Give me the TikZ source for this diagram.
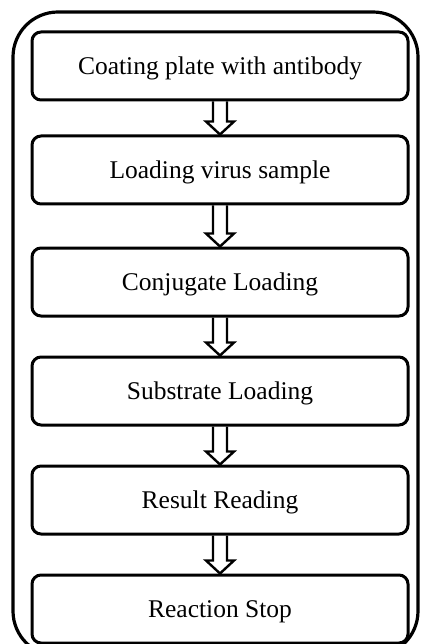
\documentclass[tikz,border=0pt]{standalone}
\usepackage{fontspec}
\setmainfont{Liberation Serif}
\usetikzlibrary{calc}
\tikzset{
  stepbox/.style={draw, line width=3pt, rounded corners=9pt, minimum width=376pt, minimum height=68pt,
    inner sep=0pt, text height=17pt, text depth=0pt, font=\fontsize{25.5}{30}\selectfont},
  frame/.style={draw, line width=3.2pt, rounded corners=45pt},
  hollow/.style={draw, line width=2.4pt, line join=miter}
}
\begin{document}
\begin{tikzpicture}[x=1pt,y=-1pt]
\useasboundingbox (0,0) rectangle (421,644);
\clip (0,0) rectangle (421,644);
\fill[white] (0,0) rectangle (421,644);
\draw[frame] (13,12) rectangle (418,656);
\node[stepbox] (b1) at (220,66) {Coating plate with antibody};
\node[stepbox] (b2) at (220,170) {Loading virus sample};
\node[stepbox] (b3) at (220,282) {Conjugate Loading};
\node[stepbox] (b4) at (220,391) {Substrate Loading};
\node[stepbox] (b5) at (220,500) {Result Reading};
\node[stepbox] (b6) at (220,609) {Reaction Stop};
\foreach \a/\b in {b1/b2,b2/b3,b3/b4,b4/b5,b5/b6}{
  \draw[hollow] ($(\a.south)+(-7,0)$) -- ($(\b.north)+(-7,-13)$) -- ($(\b.north)+(-14,-13)$)
    -- (\b.north) -- ($(\b.north)+(14,-13)$) -- ($(\b.north)+(7,-13)$) -- ($(\a.south)+(7,0)$);
}
\end{tikzpicture}
\end{document}
